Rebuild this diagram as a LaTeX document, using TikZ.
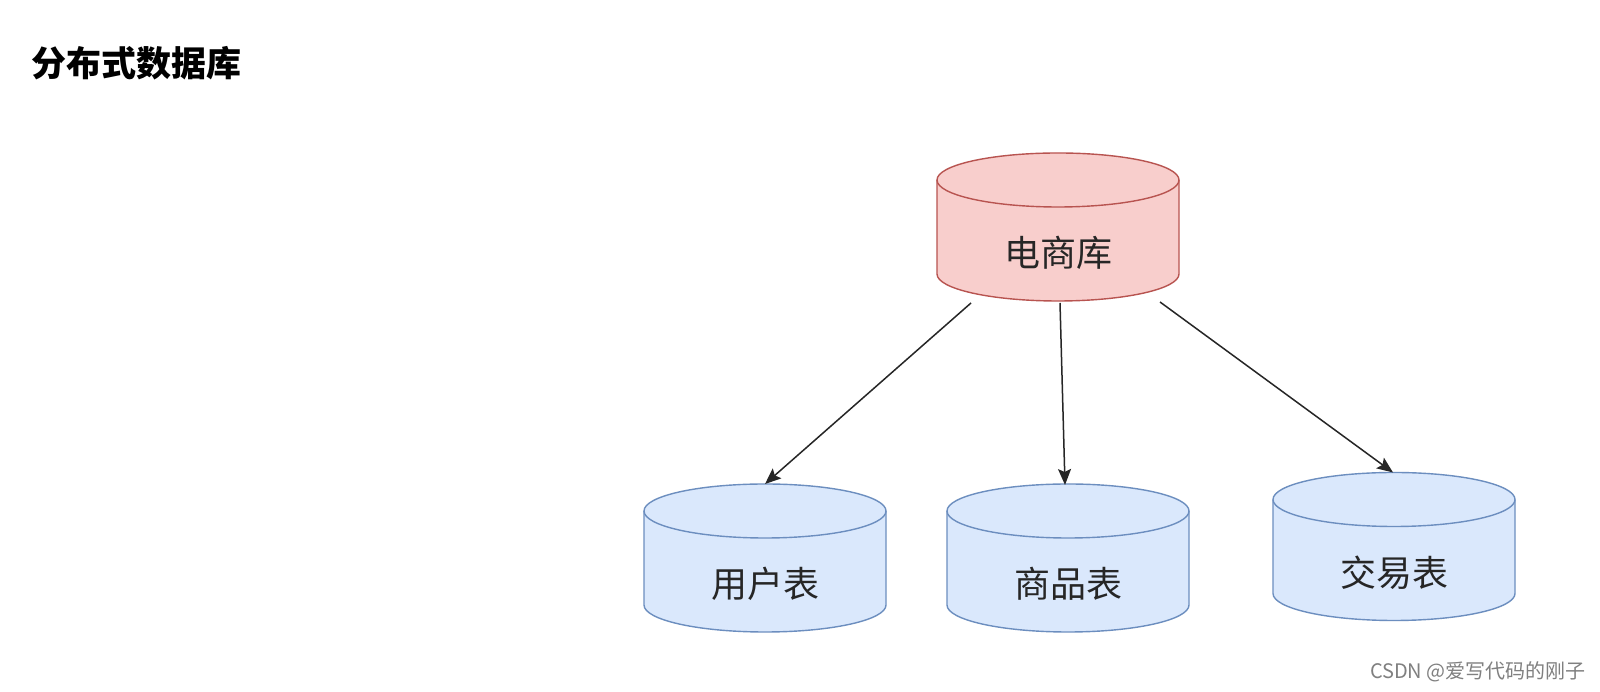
\documentclass[tikz,border=0pt]{standalone}
\usepackage{fontspec}
\setmainfont{Noto Sans CJK SC}
\usetikzlibrary{arrows.meta}
\definecolor{redfill}{HTML}{F8CECC}
\definecolor{redline}{HTML}{B85450}
\definecolor{bluefill}{HTML}{DAE8FC}
\definecolor{blueline}{HTML}{6C8EBF}
% #1 name, #2 x, #3 y, #4 fill, #5 line, #6 text
\newcommand{\database}[6]{%
  \filldraw[fill=#4, draw=#5, line width=1.4pt] (#2-121,#3+47) -- (#2-121,#3-47)
    arc[start angle=180, end angle=360, x radius=121, y radius=27] -- (#2+121,#3+47)
    arc[start angle=0, end angle=180, x radius=121, y radius=27] -- cycle;
  \draw[draw=#5, line width=1.4pt] (#2-121,#3+47)
    arc[start angle=180, end angle=360, x radius=121, y radius=27];
  \coordinate (#1-top) at (#2,#3+74);
  \coordinate (#1-bottom) at (#2,#3-74);
  \node[dbtext] (#1) at (#2,#3-26) {#6};}
\begin{document}
\begin{tikzpicture}[x=1pt, y=1pt,
  dbtext/.style={font=\fontsize{36}{40}\selectfont, text=black!85, inner sep=0pt},
  link/.style={line width=1.5pt, draw=black!85, -{Stealth[length=16pt, width=13pt, inset=3pt]}}]
\useasboundingbox[fill=white] (0,0) rectangle (1600,692);
\node[font=\fontsize{35}{40}\selectfont\bfseries, anchor=west, inner sep=0pt] (title) at (31,629) {分布式数据库};
\database{shop}{1058}{465}{redfill}{redline}{电商库}
\database{user}{765}{134}{bluefill}{blueline}{用户表}
\database{goods}{1068}{134}{bluefill}{blueline}{商品表}
\database{trade}{1394}{145.5}{bluefill}{blueline}{交易表}
\draw[link] ([shift={(-87,-2)}]shop-bottom) -- (user-top);
\draw[link] ([shift={(2,-2)}]shop-bottom) -- ([shift={(-3,-1)}]goods-top);
\draw[link] ([shift={(102,-1)}]shop-bottom) -- ([shift={(-1,0)}]trade-top);
\node[font=\fontsize{20}{22}\selectfont, text=black!50, anchor=east, inner sep=0pt] (mark) at (1586,20) {CSDN @爱写代码的刚子};
\end{tikzpicture}
\end{document}
